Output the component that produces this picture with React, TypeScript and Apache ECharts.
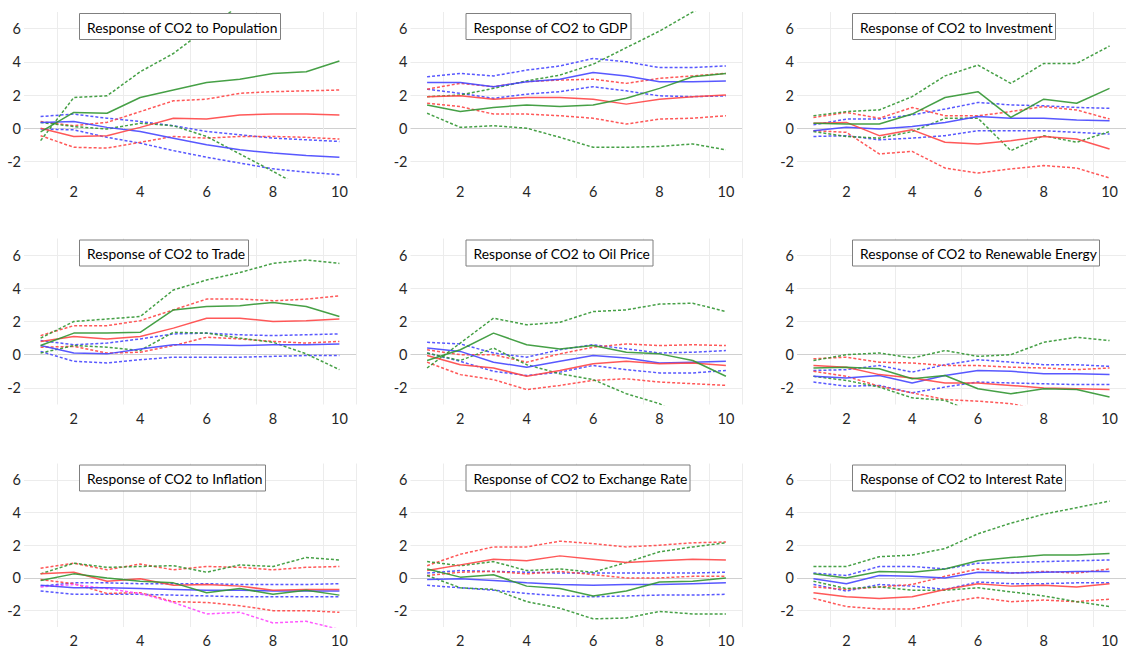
import React, { useEffect, useRef } from "react";
import * as echarts from "echarts";

// ---- horizon (periods) ----
const periods = ["1", "2", "3", "4", "5", "6", "7", "8", "9", "10"];
const yTicks = [-2, 0, 2, 4, 6];

const titles = [
  "Response of CO2 to Population",
  "Response of CO2 to GDP",
  "Response of CO2 to Investment",
  "Response of CO2 to Trade",
  "Response of CO2 to Oil Price",
  "Response of CO2 to Renewable Energy",
  "Response of CO2 to Inflation",
  "Response of CO2 to Exchange Rate",
  "Response of CO2 to Interest Rate",
];

// ---- Population ----
const popBlue = [0.35, 0.4, 0.05, -0.2, -0.6, -1.0, -1.3, -1.5, -1.65, -1.75];
const popBlueHi = [0.7, 0.85, 0.6, 0.4, 0.15, -0.2, -0.4, -0.6, -0.7, -0.8];
const popBlueLo = [-0.05, -0.1, -0.55, -0.9, -1.35, -1.75, -2.1, -2.45, -2.65, -2.8];
const popRed = [0.0, -0.5, -0.45, 0.05, 0.6, 0.55, 0.8, 0.85, 0.85, 0.8];
const popRedHi = [0.4, 0.15, 0.35, 1.0, 1.65, 1.75, 2.1, 2.2, 2.25, 2.3];
const popRedLo = [-0.45, -1.15, -1.2, -0.85, -0.5, -0.6, -0.5, -0.5, -0.55, -0.65];
const popGreen = [-0.22, 0.95, 0.9, 1.85, 2.3, 2.75, 2.95, 3.3, 3.4, 4.05];
const popGreenHi = [-0.75, 1.85, 1.95, 3.4, 4.5, 6.0, 7.4, 8.6, 9.6, 10.6];
const popGreenLo = [0.35, 0.1, -0.05, 0.3, 0.15, -0.5, -1.55, -2.6, -3.7, -4.8];

// ---- GDP ----
const gdpBlue = [2.75, 2.75, 2.5, 2.8, 2.95, 3.35, 3.15, 2.8, 2.8, 2.85];
const gdpBlueHi = [3.1, 3.3, 3.15, 3.5, 3.75, 4.2, 4.0, 3.65, 3.65, 3.75];
const gdpBlueLo = [2.35, 2.1, 1.8, 2.05, 2.2, 2.5, 2.25, 1.95, 1.9, 1.95];
const gdpRed = [1.9, 1.95, 1.75, 1.85, 1.85, 1.75, 1.45, 1.75, 1.9, 2.0];
const gdpRedHi = [2.35, 2.7, 2.5, 2.8, 2.9, 2.95, 2.7, 3.0, 3.15, 3.3];
const gdpRedLo = [1.5, 1.3, 0.85, 0.85, 0.75, 0.6, 0.25, 0.55, 0.6, 0.75];
const gdpGreen = [1.4, 1.0, 1.25, 1.4, 1.3, 1.4, 1.8, 2.4, 3.1, 3.3];
const gdpGreenHi = [1.9, 2.0, 2.4, 2.85, 3.2, 3.85, 4.85, 5.85, 7.0, 8.0];
const gdpGreenLo = [0.9, 0.05, 0.15, 0.0, -0.55, -1.15, -1.15, -1.1, -0.95, -1.3];

// ---- Investment ----
const invBlue = [-0.15, 0.05, -0.05, 0.1, 0.35, 0.7, 0.6, 0.6, 0.5, 0.45];
const invBlueHi = [0.2, 0.55, 0.55, 0.8, 1.15, 1.55, 1.4, 1.35, 1.25, 1.2];
const invBlueLo = [-0.5, -0.45, -0.7, -0.6, -0.45, -0.15, -0.15, -0.15, -0.25, -0.35];
const invRed = [0.3, 0.35, -0.45, -0.1, -0.85, -0.95, -0.75, -0.5, -0.65, -1.25];
const invRedHi = [0.65, 0.95, 0.6, 1.25, 0.75, 0.75, 1.0, 1.3, 1.1, 0.55];
const invRedLo = [-0.15, -0.25, -1.55, -1.4, -2.4, -2.7, -2.45, -2.25, -2.4, -3.0];
const invGreen = [0.3, 0.25, 0.25, 0.85, 1.85, 2.2, 0.65, 1.75, 1.5, 2.4];
const invGreenHi = [0.75, 1.0, 1.1, 1.9, 3.15, 3.8, 2.7, 3.9, 3.9, 4.95];
const invGreenLo = [-0.2, -0.5, -0.6, -0.2, 0.6, 0.6, -1.35, -0.45, -0.85, -0.2];

// ---- Trade ----
const trdBlue = [0.55, 0.1, 0.05, 0.35, 0.6, 0.6, 0.55, 0.6, 0.6, 0.65];
const trdBlueHi = [0.85, 0.6, 0.7, 0.95, 1.25, 1.3, 1.2, 1.15, 1.2, 1.25];
const trdBlueLo = [0.2, -0.4, -0.5, -0.3, -0.15, -0.15, -0.15, -0.1, -0.05, -0.05];
const trdRed = [0.8, 1.1, 0.95, 1.1, 1.6, 2.2, 2.2, 2.0, 2.05, 2.15];
const trdRedHi = [1.15, 1.75, 1.75, 2.05, 2.7, 3.35, 3.35, 3.25, 3.35, 3.55];
const trdRedLo = [0.45, 0.5, 0.1, 0.15, 0.55, 1.05, 0.95, 0.8, 0.7, 0.8];
const trdGreen = [0.55, 1.3, 1.3, 1.35, 2.7, 2.9, 2.95, 3.15, 2.9, 2.3];
const trdGreenHi = [1.0, 2.0, 2.15, 2.3, 3.9, 4.5, 4.95, 5.5, 5.7, 5.5];
const trdGreenLo = [0.1, 0.55, 0.45, 0.25, 1.35, 1.3, 1.0, 0.75, 0.05, -0.9];

// ---- Oil Price ----
const oilBlue = [0.4, 0.2, -0.45, -0.75, -0.4, -0.05, -0.2, -0.5, -0.45, -0.4];
const oilBlueHi = [0.75, 0.65, 0.1, -0.15, 0.3, 0.6, 0.35, 0.1, 0.15, 0.25];
const oilBlueLo = [0.1, -0.4, -1.0, -1.25, -1.05, -0.65, -0.9, -1.1, -1.1, -0.95];
const oilRed = [-0.05, -0.6, -0.8, -1.3, -0.95, -0.55, -0.4, -0.55, -0.5, -0.65];
const oilRedHi = [0.3, 0.0, 0.0, -0.45, 0.05, 0.45, 0.65, 0.55, 0.6, 0.55];
const oilRedLo = [-0.45, -1.2, -1.5, -2.1, -1.85, -1.55, -1.45, -1.65, -1.75, -1.85];
const oilGreen = [-0.35, 0.3, 1.3, 0.6, 0.35, 0.55, 0.15, 0.05, -0.35, -1.3];
const oilGreenHi = [-0.8, 0.7, 2.2, 1.8, 1.95, 2.6, 2.7, 3.05, 3.1, 2.6];
const oilGreenLo = [0.1, -0.35, 0.4, -0.6, -1.15, -1.5, -2.35, -2.95, -4.0, -5.0];

// ---- Renewable Energy ----
const renBlue = [-1.3, -1.4, -1.25, -1.7, -1.25, -0.95, -1.0, -1.15, -1.15, -1.2];
const renBlueHi = [-0.95, -0.9, -0.65, -1.05, -0.6, -0.3, -0.45, -0.6, -0.6, -0.7];
const renBlueLo = [-1.65, -1.9, -1.85, -2.3, -1.95, -1.65, -1.7, -1.75, -1.8, -1.8];
const renRed = [-0.65, -0.75, -1.2, -1.4, -1.7, -1.7, -1.85, -2.0, -2.05, -2.1];
const renRedHi = [-0.25, -0.15, -0.45, -0.5, -0.65, -0.65, -0.75, -0.8, -0.9, -0.8];
const renRedLo = [-1.0, -1.3, -1.9, -2.3, -2.7, -2.8, -2.95, -3.35, -3.5, -3.7];
const renGreen = [-0.8, -0.75, -0.85, -1.45, -1.25, -2.05, -2.35, -2.05, -2.1, -2.55];
const renGreenHi = [-0.35, 0.0, 0.1, -0.2, 0.25, -0.1, 0.0, 0.75, 1.05, 0.85];
const renGreenLo = [-1.3, -1.55, -1.95, -2.6, -2.75, -3.6, -4.2, -4.6, -5.0, -5.5];

// ---- Inflation ----
const infBlue = [-0.45, -0.6, -0.6, -0.65, -0.7, -0.75, -0.75, -0.8, -0.8, -0.8];
const infBlueHi = [-0.5, -0.3, -0.3, -0.35, -0.35, -0.35, -0.4, -0.4, -0.4, -0.35];
const infBlueLo = [-0.8, -1.0, -1.0, -1.0, -1.05, -1.1, -1.15, -1.15, -1.15, -1.15];
const infRed = [0.25, 0.35, -0.2, -0.05, -0.45, -0.4, -0.5, -0.75, -0.7, -0.7];
const infRedHi = [0.6, 0.9, 0.5, 0.85, 0.5, 0.7, 0.65, 0.5, 0.65, 0.7];
const infRedLo = [-0.1, -0.35, -0.95, -0.9, -1.45, -1.5, -1.7, -2.0, -2.0, -2.1];
const infGreen = [-0.15, 0.25, 0.0, -0.2, -0.3, -0.9, -0.65, -1.0, -0.75, -1.05];
const infGreenHi = [0.25, 0.9, 0.65, 0.7, 0.75, 0.35, 0.8, 0.7, 1.25, 1.1];
const infGreenLo = [-0.55, -0.4, -0.65, -0.95, -1.5, -2.2, -2.1, -2.75, -2.65, -3.15];

// ---- Exchange Rate ----
const excBlue = [-0.1, -0.05, -0.15, -0.3, -0.4, -0.45, -0.4, -0.4, -0.35, -0.3];
const excBlueHi = [0.3, 0.45, 0.4, 0.35, 0.3, 0.3, 0.3, 0.3, 0.3, 0.35];
const excBlueLo = [-0.45, -0.6, -0.75, -0.95, -1.1, -1.15, -1.1, -1.05, -1.05, -1.0];
const excRed = [0.45, 0.8, 1.15, 1.05, 1.35, 1.15, 0.95, 1.05, 1.15, 1.1];
const excRedHi = [0.75, 1.45, 1.9, 1.9, 2.25, 2.1, 1.9, 2.0, 2.15, 2.2];
const excRedLo = [0.15, 0.35, 0.4, 0.25, 0.4, 0.2, 0.0, 0.0, 0.1, 0.1];
const excGreen = [0.55, 0.05, 0.2, -0.5, -0.65, -1.1, -0.8, -0.25, -0.2, 0.0];
const excGreenHi = [1.0, 0.75, 1.0, 0.45, 0.55, 0.35, 0.95, 1.6, 1.9, 2.15];
const excGreenLo = [0.15, -0.6, -0.7, -1.45, -1.85, -2.5, -2.45, -2.05, -2.2, -2.2];

// ---- Interest Rate ----
const intBlue = [-0.05, -0.35, 0.15, 0.1, 0.0, 0.35, 0.3, 0.35, 0.4, 0.4];
const intBlueHi = [0.3, 0.15, 0.7, 0.7, 0.55, 0.9, 0.95, 1.0, 1.05, 1.1];
const intBlueLo = [-0.4, -0.8, -0.4, -0.5, -0.7, -0.25, -0.35, -0.35, -0.3, -0.3];
const intRed = [-0.9, -1.15, -1.25, -1.15, -0.7, -0.35, -0.5, -0.45, -0.55, -0.35];
const intRedHi = [-0.55, -0.7, -0.55, -0.4, 0.1, 0.55, 0.3, 0.4, 0.3, 0.55];
const intRedLo = [-1.25, -1.75, -1.9, -1.9, -1.5, -1.2, -1.45, -1.35, -1.45, -1.3];
const intGreen = [0.25, 0.0, 0.4, 0.35, 0.55, 1.05, 1.25, 1.4, 1.4, 1.5];
const intGreenHi = [0.7, 0.7, 1.3, 1.4, 1.8, 2.7, 3.35, 3.9, 4.3, 4.7];
const intGreenLo = [-0.2, -0.65, -0.55, -0.75, -0.75, -0.6, -0.85, -1.1, -1.45, -1.75];

const panelData = [
  [popBlue, popBlueHi, popBlueLo, popRed, popRedHi, popRedLo, popGreen, popGreenHi, popGreenLo],
  [gdpBlue, gdpBlueHi, gdpBlueLo, gdpRed, gdpRedHi, gdpRedLo, gdpGreen, gdpGreenHi, gdpGreenLo],
  [invBlue, invBlueHi, invBlueLo, invRed, invRedHi, invRedLo, invGreen, invGreenHi, invGreenLo],
  [trdBlue, trdBlueHi, trdBlueLo, trdRed, trdRedHi, trdRedLo, trdGreen, trdGreenHi, trdGreenLo],
  [oilBlue, oilBlueHi, oilBlueLo, oilRed, oilRedHi, oilRedLo, oilGreen, oilGreenHi, oilGreenLo],
  [renBlue, renBlueHi, renBlueLo, renRed, renRedHi, renRedLo, renGreen, renGreenHi, renGreenLo],
  [infBlue, infBlueHi, infBlueLo, infRed, infRedHi, infRedLo, infGreen, infGreenHi, infGreenLo],
  [excBlue, excBlueHi, excBlueLo, excRed, excRedHi, excRedLo, excGreen, excGreenHi, excGreenLo],
  [intBlue, intBlueHi, intBlueLo, intRed, intRedHi, intRedLo, intGreen, intGreenHi, intGreenLo],
];

const BLUE = "rgba(70,70,255,0.9)";
const RED = "rgba(255,70,70,0.9)";
const GREEN = "rgba(50,150,50,0.9)";
const MAGENTA = "rgba(255,80,255,0.95)";

const gridLefts = [24, 410.5, 797];
const gridTops = [12, 238.5, 463.5];
const GRID_W = 332;
const GRID_H = 166;
const FONT = "Lato, 'Liberation Sans', sans-serif";

export default function App() {
  const ref = useRef<HTMLDivElement>(null);

  useEffect(() => {
    if (!ref.current) return;
    const chart = echarts.init(ref.current, null, { renderer: "svg" });

    const grids: any[] = [];
    const xAxes: any[] = [];
    const yAxes: any[] = [];
    const titleArr: any[] = [];
    const series: any[] = [];
    const everyOther = (i: number) => i % 2 === 1;

    panelData.forEach((lines, p) => {
      const row = Math.floor(p / 3);
      const col = p % 3;
      const left = gridLefts[col];
      const top = gridTops[row];
      grids.push({ left, top, width: GRID_W, height: GRID_H, containLabel: false });
      xAxes.push({
        type: "category",
        gridIndex: p,
        data: periods,
        boundaryGap: true,
        axisLine: { show: false },
        axisTick: { show: false, interval: everyOther },
        axisLabel: {
          interval: everyOther,
          fontSize: 14.5,
          color: "#262626",
          fontFamily: FONT,
          margin: 6,
        },
        splitLine: {
          show: true,
          interval: everyOther,
          lineStyle: { color: "#ececec", width: 1 },
        },
      });
      yAxes.push({
        type: "value",
        gridIndex: p,
        min: -3,
        max: 7,
        interval: 1,
        axisLine: { show: false },
        axisTick: { show: false },
        axisLabel: {
          fontSize: 14.5,
          color: "#262626",
          fontFamily: FONT,
          margin: 3,
          formatter: (v: number) => (yTicks.includes(v) ? String(v) : ""),
        },
        splitLine: {
          show: true,
          lineStyle: {
            width: 1,
            color: [
              "transparent",
              "#ececec",
              "transparent",
              "#d0d0d0",
              "transparent",
              "#ececec",
              "transparent",
              "#ececec",
              "transparent",
              "#ececec",
              "transparent",
            ],
          },
        },
      });
      titleArr.push({
        text: titles[p],
        left: left + 55,
        top: top + 1,
        padding: [7, 3, 6, 8],
        borderColor: "#7f7f7f",
        borderWidth: 1,
        backgroundColor: "#ffffff",
        textStyle: {
          fontSize: 13.8,
          fontWeight: "normal",
          color: "#000000",
          fontFamily: FONT,
        },
      });
      const colors = [BLUE, BLUE, BLUE, RED, RED, RED, GREEN, GREEN, p === 6 ? MAGENTA : GREEN];
      lines.forEach((arr, k) => {
        const dashed = k % 3 !== 0;
        series.push({
          type: "line",
          xAxisIndex: p,
          yAxisIndex: p,
          data: arr,
          symbol: "none",
          silent: true,
          clip: true,
          z: dashed ? 2 : 3,
          lineStyle: {
            color: colors[k],
            width: 1.5,
            type: dashed ? [3, 2] : "solid",
          },
        });
      });
    });

    chart.setOption({
      animation: false,
      backgroundColor: "#ffffff",
      title: titleArr,
      grid: grids,
      xAxis: xAxes,
      yAxis: yAxes,
      series,
    });

    return () => chart.dispose();
  }, []);

  return (
    <div
      ref={ref}
      style={{ position: "fixed", left: 0, top: 0, width: 1126, height: 648, background: "#fff" }}
    />
  );
}
